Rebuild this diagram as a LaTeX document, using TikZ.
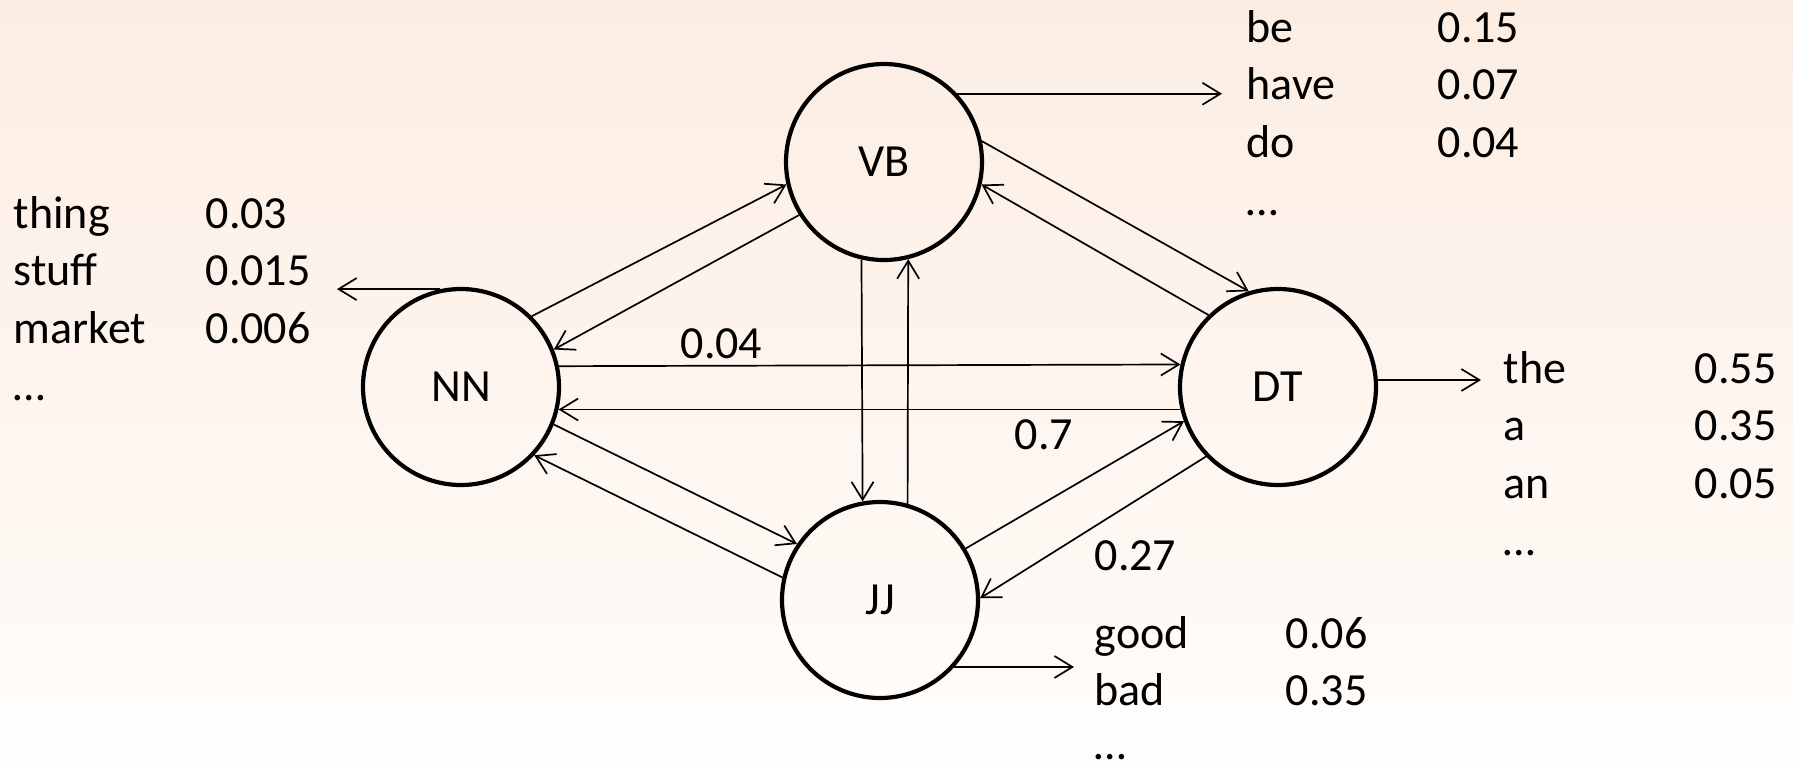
\documentclass[tikz,border=0pt]{standalone}
\usepackage{fontspec}
\setmainfont{Carlito}
\usetikzlibrary{arrows.meta}
\definecolor{bgtop}{RGB}{252,237,226}
\definecolor{bgbottom}{RGB}{255,251,248}
\definecolor{bgwhite}{RGB}{255,253,251}
\tikzset{
  tag/.style={circle, draw, line width=0.42mm, minimum size=19.6mm, inner sep=0pt},
  link/.style={-{Straight Barb[length=1.8mm,width=2.2mm]}, line width=0.17mm},
  word/.style={anchor=base west, inner sep=0pt},
}
\begin{document}
\begin{tikzpicture}[x=0.1mm, y=-0.1mm, font=\fontsize{13.1}{16}\selectfont]
  % background
  \useasboundingbox (0,0) rectangle (1793,767);
  \shade[top color=bgtop, bottom color=bgbottom] (0,0) rectangle (1793,700);
  \fill[bgwhite] (0,700) rectangle (1793,767);
  % tags
  \node[tag] (VB) at (884,162) {VB};
  \node[tag] (NN) at (461,387) {NN};
  \node[tag] (DT) at (1278,387) {DT};
  \node[tag] (JJ) at (880,600) {JJ};
  % transitions
  \draw[link] (NN.45) -- (VB.193);
  \draw[link] (VB.212) -- (NN.22.5);
  \draw[link] (VB.12.6) -- (DT.107);
  \draw[link] (DT.134) -- (VB.-13.5);
  \draw[link] (NN.12.7) -- (DT.167.3);
  \draw[link] (DT.193.9) -- (NN.-13.9);
  \draw[link] (NN.-22.8) -- (JJ.146.5);
  \draw[link] (JJ.167) -- (NN.-43.8);
  \draw[link] (VB.-103) -- (JJ.100);
  \draw[link] (JJ.74.3) -- (VB.-76.7);
  \draw[link] (JJ.31) -- (DT.200);
  \draw[link] (DT.224.6) -- (JJ.1.7);
  % transition probabilities
  \node[word] (nn-dt) at (680,358) {0.04};
  \node[word] (dt-nn) at (1014,449) {0.7};
  \node[word] (dt-jj) at (1094,570) {0.27};
  % emissions
  \coordinate (nn-out) at (337,0);
  \coordinate (vb-out) at (1222,0);
  \coordinate (dt-out) at (1481,0);
  \coordinate (jj-out) at (1074,0);
  \draw[link] (NN.102) -- (NN.102 -| nn-out);
  \draw[link] (VB.43) -- (VB.43 -| vb-out);
  \draw[link] (DT.4) -- (DT.4 -| dt-out);
  \draw[link] (JJ.-42.5) -- (JJ.-42.5 -| jj-out);
  % emission lists
  \foreach \w/\p [count=\i] in {thing/0.03, stuff/0.015, market/0.006} {
    \node[word] (nn-w\i) at (13,{228+57.5*(\i-1)}) {\w};
    \node[word] (nn-p\i) at (205,{228+57.5*(\i-1)}) {\p};
  }
  \node[word] (nn-more) at (13,400) {…};
  \foreach \w/\p [count=\i] in {be/0.15, have/0.07, do/0.04} {
    \node[word] (vb-w\i) at (1246,{42+57.5*(\i-1)}) {\w};
    \node[word] (vb-p\i) at (1437,{42+57.5*(\i-1)}) {\p};
  }
  \node[word] (vb-more) at (1246,215) {…};
  \foreach \w/\p [count=\i] in {the/0.55, a/0.35, an/0.05} {
    \node[word] (dt-w\i) at (1503,{383+57.5*(\i-1)}) {\w};
    \node[word] (dt-p\i) at (1694,{383+57.5*(\i-1)}) {\p};
  }
  \node[word] (dt-more) at (1503,555) {…};
  \foreach \w/\p [count=\i] in {good/0.06, bad/0.35} {
    \node[word] (jj-w\i) at (1094,{648+57.5*(\i-1)}) {\w};
    \node[word] (jj-p\i) at (1285,{648+57.5*(\i-1)}) {\p};
  }
  \node[word] (jj-more) at (1094,759) {…};
\end{tikzpicture}
\end{document}
